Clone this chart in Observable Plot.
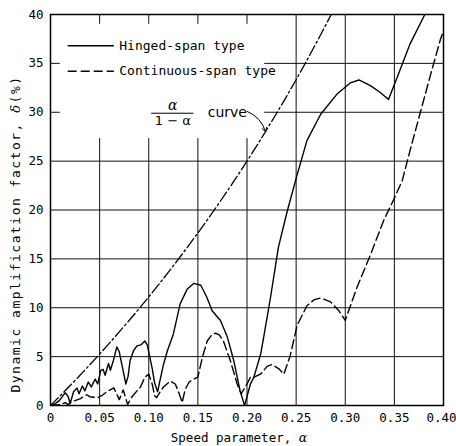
<!DOCTYPE html>
<html><head><meta charset="utf-8">
<script src="https://cdn.jsdelivr.net/npm/d3@7"></script>
<script src="https://cdn.jsdelivr.net/npm/@observablehq/plot@0.6"></script>
<style>body{margin:0;background:#fff} #chart{width:456px;height:446px}</style>
</head><body><div id="chart"></div>
<script>
// ---- data ----
const xTicks = [0, 0.05, 0.10, 0.15, 0.20, 0.25, 0.30, 0.35, 0.40];
const yTicks = [0, 5, 10, 15, 20, 25, 30, 35, 40];

// hinged-span type (solid)
const hingedAlpha = [0,0.005,0.009,0.012,0.015,0.018,0.020,0.0235,0.027,0.029,0.0325,0.035,0.0385,0.0415,0.0455,0.048,0.0512,0.0535,0.0556,0.059,0.061,0.064,0.0675,0.070,0.073,0.0767,0.079,0.081,0.0845,0.088,0.092,0.096,0.0985,0.1005,0.1035,0.106,0.109,0.1115,0.115,0.119,0.125,0.132,0.139,0.146,0.153,0.159,0.1645,0.173,0.180,0.1865,0.193,0.1975,0.2035,0.207,0.214,0.217,0.224,0.232,0.241,0.251,0.261,0.275,0.292,0.305,0.314,0.326,0.336,0.344,0.353,0.366,0.381];
const hingedDelta = [0,0.2,0.5,0.9,1.3,0.9,0.2,1.4,1.8,1.2,2.0,1.5,2.4,1.9,2.7,2.2,3.6,3.7,3.1,4.3,3.6,4.6,6.0,5.5,4.0,2.2,3.0,4.6,5.6,6.1,6.2,6.6,6.2,5.2,3.8,2.3,1.4,2.6,4.2,5.6,7.3,10.4,11.9,12.5,12.3,11.1,9.7,8.7,7.0,4.6,1.5,0,2.2,2.9,5.3,7.0,11.1,16.2,19.9,23.6,27.1,29.8,31.9,33.0,33.3,32.7,32.0,31.3,33.6,37.0,40.0];

// continuous-span type (dashed)
const contAlpha = [0,0.010,0.015,0.018,0.022,0.025,0.0305,0.0336,0.037,0.040,0.044,0.048,0.052,0.056,0.059,0.0645,0.070,0.074,0.0785,0.083,0.088,0.0916,0.096,0.100,0.1035,0.106,0.108,0.111,0.115,0.122,0.127,0.131,0.134,0.137,0.141,0.146,0.150,0.1545,0.1595,0.164,0.168,0.172,0.176,0.183,0.190,0.194,0.200,0.2035,0.207,0.2137,0.2205,0.2255,0.2325,0.2375,0.244,0.251,0.261,0.268,0.275,0.285,0.2935,0.300,0.312,0.326,0.339,0.349,0.358,0.366,0.377,0.387,0.397,0.400];
const contDelta = [0,0.1,0.3,0.1,0.4,0.5,0.7,0.9,1.1,0.9,0.85,0.8,1.0,1.3,1.5,1.8,0.6,1.6,0.1,0.9,1.5,1.9,2.9,3.2,2.2,1.0,0.8,1.3,1.9,2.5,2.2,1.2,0.3,1.6,2.4,2.7,2.9,4.9,6.6,7.2,7.4,7.2,6.6,4.6,2.2,1.2,2.2,2.9,2.9,3.2,4.0,4.2,3.75,3.2,5.1,8.2,10.2,10.8,11.0,10.6,9.7,8.7,12.1,15.5,18.9,21.0,23.0,26.1,30.2,33.9,37.5,38.3];

// alpha/(1-alpha) curve, in %
const refAlpha = [0,0.01,0.02,0.03,0.04,0.05,0.06,0.07,0.08,0.09,0.10,0.11,0.12,0.13,0.14,0.15,0.16,0.17,0.18,0.19,0.20,0.21,0.22,0.23,0.24,0.25,0.26,0.27,0.28,0.2857];
const refDelta = [0,1.01,2.04,3.09,4.17,5.26,6.38,7.53,8.70,9.89,11.11,12.36,13.64,14.94,16.28,17.65,19.05,20.48,21.95,23.46,25.00,26.58,28.21,29.87,31.58,33.33,35.14,36.99,38.89,40.0];

const seriesNames = ["Hinged-span type", "Continuous-span type"];
const xTitle = ["Speed parameter, ", "α"];
const yTitle = ["Dynamic amplification factor, ", "δ", "(%)"];

// ---- layout / annotation options (not data) ----
const legendBox = {x1: 0.010, x2: 0.218, y1: 27.3, y2: 39.0};
const legendRows = [
  {name: seriesNames[0], y: 36.8, dash: null},
  {name: seriesNames[1], y: 34.2, dash: "9,4"}
];
const legendLine = {x1: 0.018, x2: 0.065, xText: 0.070};
const fracPos = {x1: 0.103, x2: 0.146, y: 29.9, xCurve: 0.160};
const arrowPos = {x1: 0.200, y1: 30.1, x2: 0.219, y2: 28.0};

const hinged = hingedAlpha.map((a, i) => ({a, d: hingedDelta[i]}));
const cont = contAlpha.map((a, i) => ({a, d: contDelta[i]}));
const ref = refAlpha.map((a, i) => ({a, d: refDelta[i]}));

const font = "'DejaVu Sans Mono', 'Liberation Mono', monospace";

const chart = Plot.plot({
  width: 456, height: 446,
  marginLeft: 50, marginRight: 13, marginTop: 14, marginBottom: 41,
  style: {fontFamily: font, fontSize: "12.5px", background: "white", color: "black"},
  x: {domain: [0, 0.40], ticks: xTicks, tickFormat: d => d === 0 ? "0" : d.toFixed(2), tickSize: 0, tickPadding: 8, label: null},
  y: {domain: [0, 40], ticks: yTicks, tickSize: 0, tickPadding: 7, label: null},
  marks: [
    Plot.ruleX(xTicks.slice(1, -1), {stroke: "#111", strokeWidth: 1}),
    Plot.ruleY(yTicks.slice(1, -1), {stroke: "#111", strokeWidth: 1}),
    Plot.rect([legendBox], {x1: "x1", x2: "x2", y1: "y1", y2: "y2", fill: "white"}),
    Plot.line(ref, {x: "a", y: "d", stroke: "black", strokeWidth: 1.3, strokeDasharray: "11,3,2,3", clip: true}),
    Plot.line(hinged, {x: "a", y: "d", stroke: "black", strokeWidth: 1.4, clip: true}),
    Plot.line(cont, {x: "a", y: "d", stroke: "black", strokeWidth: 1.4, strokeDasharray: "9,4", clip: true}),
    // legend
    Plot.ruleY([legendRows[0]], {y: "y", x1: legendLine.x1, x2: legendLine.x2, stroke: "black", strokeWidth: 1.4}),
    Plot.ruleY([legendRows[1]], {y: "y", x1: legendLine.x1, x2: legendLine.x2, stroke: "black", strokeWidth: 1.4, strokeDasharray: "9,4"}),
    Plot.text(legendRows, {x: legendLine.xText, y: "y", text: "name", textAnchor: "start", fontSize: 13}),
    // alpha/(1-alpha) curve label
    Plot.ruleY([fracPos.y], {x1: fracPos.x1, x2: fracPos.x2, stroke: "black", strokeWidth: 1}),
    Plot.text(["α"], {x: (fracPos.x1 + fracPos.x2) / 2, y: fracPos.y, text: d => d, lineAnchor: "bottom", dy: -3, fontSize: 14, fontStyle: "italic", fontFamily: "'DejaVu Serif', serif"}),
    Plot.text(["1 − α"], {x: (fracPos.x1 + fracPos.x2) / 2, y: fracPos.y, text: d => d, lineAnchor: "top", dy: 3, fontSize: 13, fontFamily: "'DejaVu Sans', sans-serif"}),
    Plot.text(["curve"], {x: fracPos.xCurve, y: fracPos.y, text: d => d, textAnchor: "start", dy: -1, fontSize: 14, fontFamily: "'DejaVu Sans', sans-serif"}),
    Plot.arrow([arrowPos], {x1: "x1", y1: "y1", x2: "x2", y2: "y2", bend: 25, headLength: 7, stroke: "black", strokeWidth: 1}),
    // axis titles
    Plot.text([xTitle.join("")], {frameAnchor: "bottom", text: d => d, textAnchor: "middle", lineAnchor: "middle", dy: 32, dx: -8, fontSize: 12.5}),
    Plot.text([yTitle.join("")], {frameAnchor: "left", text: d => d, textAnchor: "middle", lineAnchor: "middle", rotate: -90, dx: -35, dy: 24, fontSize: 13}),
    Plot.frame({stroke: "black", strokeWidth: 1.5})
  ]
});
document.getElementById("chart").appendChild(chart);

// style the Greek symbols in the axis titles as italics
function splitTitle(parts, italicIdx, spacing) {
  d3.select(chart).selectAll("text").filter(function(){ return this.textContent === parts.join(""); }).each(function(){
    const t = d3.select(this);
    t.text(null);
    if (spacing) t.style("letter-spacing", spacing);
    parts.forEach((p, i) => {
      const s = t.append("tspan").text(p);
      if (italicIdx.includes(i)) s.style("font-style", "italic").style("font-family", "'DejaVu Serif', serif");
    });
  });
}
splitTitle(xTitle, [1], null);
splitTitle(yTitle, [1], "1.5px");
// keep the last x tick label inside the page
const xt = d3.select(chart).selectAll("g[aria-label='x-axis tick label'] text");
xt.filter(function(){ return this.textContent === "0.40"; }).attr("dx", -2);
</script>
</body></html>
